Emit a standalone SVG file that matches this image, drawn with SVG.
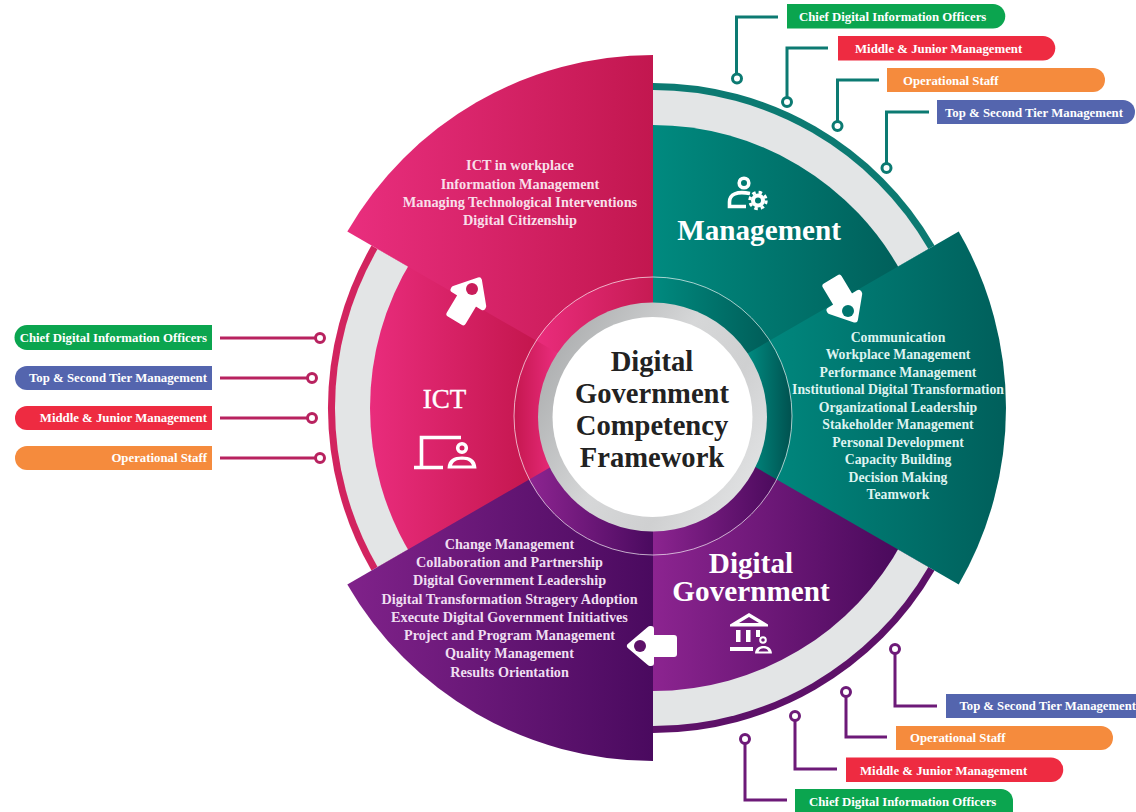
<svg xmlns="http://www.w3.org/2000/svg" width="1136" height="812" viewBox="0 0 1136 812">
<style>
text{font-family:"Liberation Serif",serif;font-weight:700;text-anchor:middle}
.lr{fill:#f8dfe9;font-size:14.3px}.lt{fill:#def3f0;font-size:13.75px}.lp{fill:#efdff1;font-size:14.2px}
.tag{font-size:12.8px;fill:#fff;text-anchor:start}
.tag2{font-size:12.7px}
.tagE{text-anchor:end}
.head{font-size:29.2px;fill:#fff}
.ctr{font-size:28.6px;fill:#222}
.gr{fill:#0ba54f}.rd{fill:#ee2b41}.or{fill:#f58b3d}.bl{fill:#5465ae}
.band{fill:#e3e5e6}
.wire{fill:none;stroke-width:3}
.wt{stroke:#0c7a72}.wr{stroke:#b8225f}.wp{stroke:#6d1a78}
.dot{fill:#fff;stroke-width:3}
.ic{fill:none;stroke:#fff;stroke-width:3.6}
.icf{fill:#fff}
</style>
<defs>
<linearGradient id="gRed" gradientUnits="userSpaceOnUse" x1="347" y1="0" x2="653" y2="0"><stop offset="0" stop-color="#e92e7e"/><stop offset="1" stop-color="#c2174f"/></linearGradient>
<linearGradient id="gIct" gradientUnits="userSpaceOnUse" x1="370" y1="0" x2="530" y2="0"><stop offset="0" stop-color="#e92c7c"/><stop offset="1" stop-color="#c5174f"/></linearGradient>
<linearGradient id="gTealD" gradientUnits="userSpaceOnUse" x1="653" y1="0" x2="898" y2="0"><stop offset="0" stop-color="#008a7f"/><stop offset="1" stop-color="#00605b"/></linearGradient>
<linearGradient id="gTealB" gradientUnits="userSpaceOnUse" x1="750" y1="0" x2="1006" y2="0"><stop offset="0" stop-color="#008a80"/><stop offset="1" stop-color="#005f5b"/></linearGradient>
<linearGradient id="gPurD" gradientUnits="userSpaceOnUse" x1="653" y1="0" x2="898" y2="0"><stop offset="0" stop-color="#8c2490"/><stop offset="1" stop-color="#4a0a5c"/></linearGradient>
<linearGradient id="gPurB" gradientUnits="userSpaceOnUse" x1="347" y1="0" x2="653" y2="0"><stop offset="0" stop-color="#80228a"/><stop offset="1" stop-color="#4a0a5f"/></linearGradient>
<linearGradient id="aRed" gradientUnits="userSpaceOnUse" x1="535" y1="0" x2="653" y2="0"><stop offset="0" stop-color="#ea2c7c"/><stop offset="1" stop-color="#c61b53"/></linearGradient>
<linearGradient id="aIct" gradientUnits="userSpaceOnUse" x1="514" y1="0" x2="556" y2="0"><stop offset="0" stop-color="#c5174f"/><stop offset="1" stop-color="#e92c7c"/></linearGradient>
<linearGradient id="aTealD" gradientUnits="userSpaceOnUse" x1="653" y1="0" x2="762" y2="0"><stop offset="0" stop-color="#008a7f"/><stop offset="1" stop-color="#00605b"/></linearGradient>
<linearGradient id="aTealB" gradientUnits="userSpaceOnUse" x1="748" y1="0" x2="792" y2="0"><stop offset="0" stop-color="#008a80"/><stop offset="1" stop-color="#00514f"/></linearGradient>
<linearGradient id="aPurD" gradientUnits="userSpaceOnUse" x1="653" y1="0" x2="780" y2="0"><stop offset="0" stop-color="#8c2490"/><stop offset="1" stop-color="#4a0a5c"/></linearGradient>
<linearGradient id="aPurB" gradientUnits="userSpaceOnUse" x1="530" y1="0" x2="653" y2="0"><stop offset="0" stop-color="#8c2490"/><stop offset="1" stop-color="#4a0a5f"/></linearGradient>
<linearGradient id="gRing" x1="0" y1="0.2" x2="1" y2="0.8"><stop offset="0" stop-color="#a9abac"/><stop offset="0.45" stop-color="#d6d7d8"/><stop offset="0.7" stop-color="#cfd0d1"/><stop offset="1" stop-color="#e4e5e6"/></linearGradient>
<clipPath id="hub"><circle cx="653" cy="416" r="139"/></clipPath>
<path id="arw" d="M0 4 L17 24 L17 25 L8 25 L8 48 L-8 48 L-8 25 L-17 25 L-17 24 Z" fill="#fff" stroke="#fff" stroke-width="6" stroke-linejoin="round"/>
<path id="sRed" d="M653 408V55A353 353 0 0 0 347.3 231.5Z"/>
<path id="sTeal" d="M653 408L958.7 231.5A353 353 0 0 1 958.7 584.5Z"/>
<path id="sPur" d="M653 408L347.3 584.5A353 353 0 0 0 653 761Z"/>
<path id="dIct" d="M653 400L411.800 260A283 283 0 0 0 411.800 556L653 416Z"/>
<path id="dTeal" d="M650 408V125H653A283 283 0 0 1 902.800 275L653 416Z"/>
<path id="dPur" d="M653 400L902.800 541A283 283 0 0 1 653 691H650V400Z"/>
</defs>

<g id="management-band">
<path d="M653 408V83A325 325 0 0 1 934.500 245.500Z" fill="#0c7a72"/>
<path class="band" d="M653 408V90A318 318 0 0 1 928.400 249Z"/>
<use href="#dTeal" fill="url(#gTealD)"/>
</g>
<g id="ict-band">
<path d="M653 408L371.500 245.500A325 325 0 0 0 371.500 570.500Z" fill="#d2245f"/>
<path class="band" d="M653 408L377.600 249A318 318 0 0 0 377.600 567Z"/>
<use href="#dIct" fill="url(#gIct)"/>
</g>
<g id="digital-government-band">
<path d="M653 408L934.500 570.500A325 325 0 0 1 653 733Z" fill="#5d1168"/>
<path class="band" d="M653 408L928.400 567A318 318 0 0 1 653 726Z"/>
<use href="#dPur" fill="url(#gPurD)"/>
</g>
<use id="ict-sector" href="#sRed" fill="url(#gRed)"/>
<use id="management-sector" href="#sTeal" fill="url(#gTealB)"/>
<use id="digital-government-sector" href="#sPur" fill="url(#gPurB)"/>

<g id="hub-ring" clip-path="url(#hub)">
<use href="#dIct" fill="url(#aIct)"/>
<use href="#dTeal" fill="url(#aTealD)"/>
<use href="#dPur" fill="url(#aPurD)"/>
<use href="#sRed" fill="url(#aRed)"/>
<use href="#sTeal" fill="url(#aTealB)"/>
<use href="#sPur" fill="url(#aPurB)"/>
</g>
<circle cx="653" cy="416" r="139" fill="none" stroke="#fff" stroke-opacity=".65" stroke-width="1"/>

<g id="center">
<circle cx="652.500" cy="417" r="114.500" fill="url(#gRing)"/>
<circle cx="652.500" cy="417" r="100" fill="#fff"/>
<text class="ctr" x="652" y="371">Digital</text>
<text class="ctr" x="652" y="403">Government</text>
<text class="ctr" x="652" y="435">Competency</text>
<text class="ctr" x="652" y="467">Framework</text>
</g>

<g id="ict">
<use href="#arw" transform="translate(481 277) rotate(31)"/>
<circle cx="472" cy="289" r="6" fill="#c91c5a"/>
<text class="lr" x="520" y="170">ICT in workplace</text>
<text class="lr" x="520" y="188.500">Information Management</text>
<text class="lr" x="520" y="207">Managing Technological Interventions</text>
<text class="lr" x="520" y="225">Digital Citizenship</text>
<text x="444.500" y="408" fill="#fff" stroke="#fff" stroke-width=".4" style="font-size:27px;font-weight:400">ICT</text>
<path class="ic" d="M461 437.500H421.500V467M414 467.500H443"/>
<circle class="ic" cx="462" cy="448" r="4.300"/>
<path class="icf" d="M447.500 468.500C448 459 454 456.500 462 456.500S476 459 476.500 468.500ZM452 465.500H472C470.500 461 467 459.800 462 459.800S453.500 461 452 465.500Z" fill-rule="evenodd"/>
</g>

<g id="management">
<use href="#arw" transform="translate(857 323) rotate(149)"/>
<circle cx="848" cy="311" r="6" fill="#00756e"/>
<circle class="ic" cx="744" cy="183" r="4.800"/>
<path class="ic" d="M750 193.500C737 191 729.500 194 729.500 202V206.500H746"/>
<circle cx="758" cy="200.500" r="5" fill="none" stroke="#fff" stroke-width="4"/>
<circle cx="758" cy="200.500" r="8.200" fill="none" stroke="#fff" stroke-width="3" stroke-dasharray="3.500 3"/>
<text class="head" x="759" y="240">Management</text>
<text class="lt" x="898" y="341.500">Communication</text>
<text class="lt" x="898" y="359">Workplace Management</text>
<text class="lt" x="898" y="376.500">Performance Management</text>
<text class="lt" x="898" y="394">Institutional Digital Transformation</text>
<text class="lt" x="898" y="411.500">Organizational Leadership</text>
<text class="lt" x="898" y="429">Stakeholder Management</text>
<text class="lt" x="898" y="446.500">Personal Development</text>
<text class="lt" x="898" y="464">Capacity Building</text>
<text class="lt" x="898" y="481.500">Decision Making</text>
<text class="lt" x="898" y="499">Teamwork</text>
</g>

<g id="digital-government">
<use href="#arw" transform="translate(626 646) rotate(-90)"/>
<circle cx="640" cy="646" r="6" fill="#5d1168"/>
<text class="head" x="751" y="573">Digital</text>
<text class="head" x="751" y="601">Government</text>
<path class="icf" d="M749 613L768 624.500V626.500H730V624.500ZM749 617L739 623H759Z" fill-rule="evenodd"/>
<path class="icf" d="M736 630H740.500V642H736ZM746 630H750.500V642H746ZM756 630H760V637H756ZM730 647H753V651H730Z"/>
<circle class="ic" style="stroke-width:2" cx="763" cy="640" r="2.800"/>
<path class="icf" d="M755 653.500C755.500 648 759 646 763.500 646S771.500 648 772 653.500ZM758.500 651.500H768.500C767.500 649 766 648.200 763.500 648.200S759.500 649 758.500 651.500Z" fill-rule="evenodd"/>
<text class="lp" x="509.500" y="548.500">Change Management</text>
<text class="lp" x="509.500" y="566.500">Collaboration and Partnership</text>
<text class="lp" x="509.500" y="585">Digital Government Leadership</text>
<text class="lp" x="509.500" y="603.500">Digital Transformation Stragery Adoption</text>
<text class="lp" x="509.500" y="621.500">Execute Digital Government Initiatives</text>
<text class="lp" x="509.500" y="639.500">Project and Program Management</text>
<text class="lp" x="509.500" y="658">Quality Management</text>
<text class="lp" x="509.500" y="676.500">Results Orientation</text>
</g>

<g id="connectors">
<path class="wire wt" d="M778 17H736.500V74M828 48H787V98M879 80H837.500V122M929 112H886.500V164"/>
<circle class="dot wt" cx="737" cy="78.500" r="4.500"/><circle class="dot wt" cx="787" cy="102" r="4.500"/><circle class="dot wt" cx="837.500" cy="126" r="4.500"/><circle class="dot wt" cx="886.500" cy="168" r="4.500"/>
<path class="wire wr" d="M220 338H316M220 378H308M220 418H308M220 458H316"/>
<circle class="dot wr" cx="320" cy="338" r="4.500"/><circle class="dot wr" cx="312" cy="378" r="4.500"/><circle class="dot wr" cx="312" cy="418" r="4.500"/><circle class="dot wr" cx="320" cy="458" r="4.500"/>
<path class="wire wp" d="M895 653V706H937M846 696V737H887M795 720V769H837M745 743V800H787"/>
<circle class="dot wp" cx="895" cy="649" r="4.500"/><circle class="dot wp" cx="846" cy="692" r="4.500"/><circle class="dot wp" cx="795" cy="716" r="4.500"/><circle class="dot wp" cx="745" cy="739" r="4.500"/>
</g>

<g id="tag-top-chief"><path class="gr" d="M787 4H993A12 12 0 0 1 993 28.500H787Z"/><text class="tag" x="799" y="20.500">Chief Digital Information Officers</text></g>
<g id="tag-top-middle"><path class="rd" d="M838 36H1043A12 12 0 0 1 1043 60.500H838Z"/><text class="tag" x="855" y="52.500">Middle &amp; Junior Management</text></g>
<g id="tag-top-operational"><path class="or" d="M887 68H1093A12 12 0 0 1 1093 92H887Z"/><text class="tag" x="903" y="85">Operational Staff</text></g>
<g id="tag-top-second"><path class="bl" d="M937 100H1123A12 12 0 0 1 1123 124H937Z"/><text class="tag" x="945" y="116.500">Top &amp; Second Tier Management</text></g>

<g id="tag-left-chief"><path class="gr" d="M212 325V350H27A12 12 0 0 1 27 325Z"/><text class="tag tagE" x="207" y="342">Chief Digital Information Officers</text></g>
<g id="tag-left-second"><path class="bl" d="M212 366V390H27A12 12 0 0 1 27 366Z"/><text class="tag tagE" x="207" y="382">Top &amp; Second Tier Management</text></g>
<g id="tag-left-middle"><path class="rd" d="M212 406V430H27A12 12 0 0 1 27 406Z"/><text class="tag tagE" x="207" y="422">Middle &amp; Junior Management</text></g>
<g id="tag-left-operational"><path class="or" d="M212 446V470H27A12 12 0 0 1 27 446Z"/><text class="tag tagE" x="207" y="462">Operational Staff</text></g>

<g id="tag-bottom-second"><rect class="bl" x="946" y="694" width="190" height="24"/><text class="tag tag2" x="959.500" y="710">Top &amp; Second Tier Management</text></g>
<g id="tag-bottom-operational"><path class="or" d="M896 726H1101A12 12 0 0 1 1101 750H896Z"/><text class="tag" x="910" y="741.500">Operational Staff</text></g>
<g id="tag-bottom-middle"><path class="rd" d="M846 757.500H1051A12 12 0 0 1 1051 782H846Z"/><text class="tag" x="860" y="774.500">Middle &amp; Junior Management</text></g>
<g id="tag-bottom-chief"><path class="gr" d="M795 789H1001A12 12 0 0 1 1013 801V812H795Z"/><text class="tag" x="809" y="806">Chief Digital Information Officers</text></g>
</svg>
